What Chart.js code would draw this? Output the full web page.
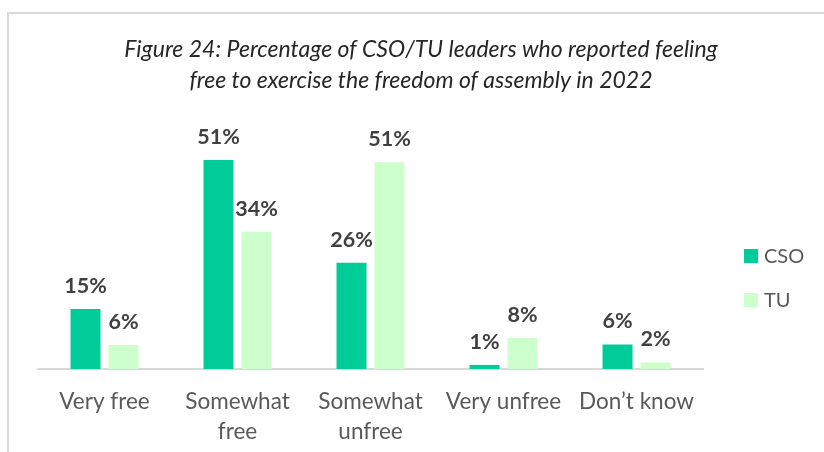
<!DOCTYPE html>
<html>
<head>
<meta charset="utf-8">
<style>
  html, body { margin: 0; padding: 0; background: #fff; }
  #frame { position: absolute; left: 7px; top: 12px; width: 900px; height: 500px; border: 2px solid #d9d9d9; }
  #chart { position: absolute; left: 0; top: 0; }
</style>
<script src="https://cdn.jsdelivr.net/npm/chart.js@4.4.0/dist/chart.umd.min.js"></script>
</head>
<body>
<div id="frame"></div>
<canvas id="chart" width="824" height="452"></canvas>
<script>
const categories = [['Very free'], ['Somewhat', 'free'], ['Somewhat', 'unfree'], ['Very unfree'], ['Don\u2019t know']];
const seriesNames = ['CSO', 'TU'];
const csoValues = [14.7, 51.2, 26, 1, 6];
const tuValues = [5.9, 33.6, 50.6, 7.6, 1.6];
const colors = ['#00cc99', '#ccffcc'];

const FONT = 'Lato, "Open Sans", sans-serif';

// value labels above each bar
const barLabels = {
    id: 'barLabels',
    afterDatasetsDraw(chart) {
        const ctx = chart.ctx;
        ctx.save();
        ctx.font = 'bold 21.5px ' + FONT;
        ctx.fillStyle = '#404040';
        ctx.textAlign = 'center';
        ctx.textBaseline = 'alphabetic';
        chart.data.datasets.forEach((ds, i) => {
            chart.getDatasetMeta(i).data.forEach((bar, j) => {
                ctx.fillText(Math.round(ds.data[j]) + '%', bar.x, bar.y - 16);
            });
        });
        ctx.restore();
    }
};

// legend on the right, drawn by hand so the plot width stays fixed
const sideLegend = {
    id: 'sideLegend',
    afterDraw(chart) {
        const ctx = chart.ctx;
        ctx.save();
        ctx.font = '20px ' + FONT;
        ctx.textBaseline = 'middle';
        chart.data.datasets.forEach((ds, i) => {
            const y = 256 + i * 44;
            ctx.fillStyle = ds.backgroundColor;
            ctx.fillRect(744, y - 7, 14, 14);
            ctx.fillStyle = '#595959';
            ctx.fillText(ds.label, 764, y + 1);
        });
        ctx.restore();
    }
};

new Chart(document.getElementById('chart'), {
    type: 'bar',
    data: {
        labels: categories,
        datasets: [
            { label: seriesNames[0], data: csoValues, backgroundColor: colors[0] },
            { label: seriesNames[1], data: tuValues, backgroundColor: colors[1] }
        ]
    },
    options: {
        responsive: false,
        animation: false,
        datasets: {
            bar: { categoryPercentage: 0.571, barPercentage: 0.79 }
        },
        layout: { padding: { left: 38, right: 20, top: 0, bottom: 5 } },
        plugins: {
            legend: { display: false },
            tooltip: { enabled: false },
            title: {
                display: true,
                text: ['Figure 24: Percentage of CSO/TU leaders who reported feeling',
                       'free to exercise the freedom of assembly in 2022'],
                color: '#262626',
                font: { family: FONT, size: 23, style: 'italic', weight: 'normal', lineHeight: '31px' },
                padding: { top: 34, bottom: 30 }
            }
        },
        scales: {
            x: {
                grid: { display: false },
                border: { color: '#d9d9d9', width: 2 },
                ticks: {
                    color: '#595959',
                    padding: 10,
                    maxRotation: 0,
                    font: { family: FONT, size: 22.5, lineHeight: '30px' }
                },
                afterFit(scale) { scale.height = 78; }
            },
            y: {
                position: 'right',
                min: 0,
                max: 59.5,
                grid: { display: false },
                border: { display: false },
                ticks: { display: false },
                afterFit(scale) { scale.width = 101; }
            }
        }
    },
    plugins: [barLabels, sideLegend]
});
</script>
</body>
</html>
